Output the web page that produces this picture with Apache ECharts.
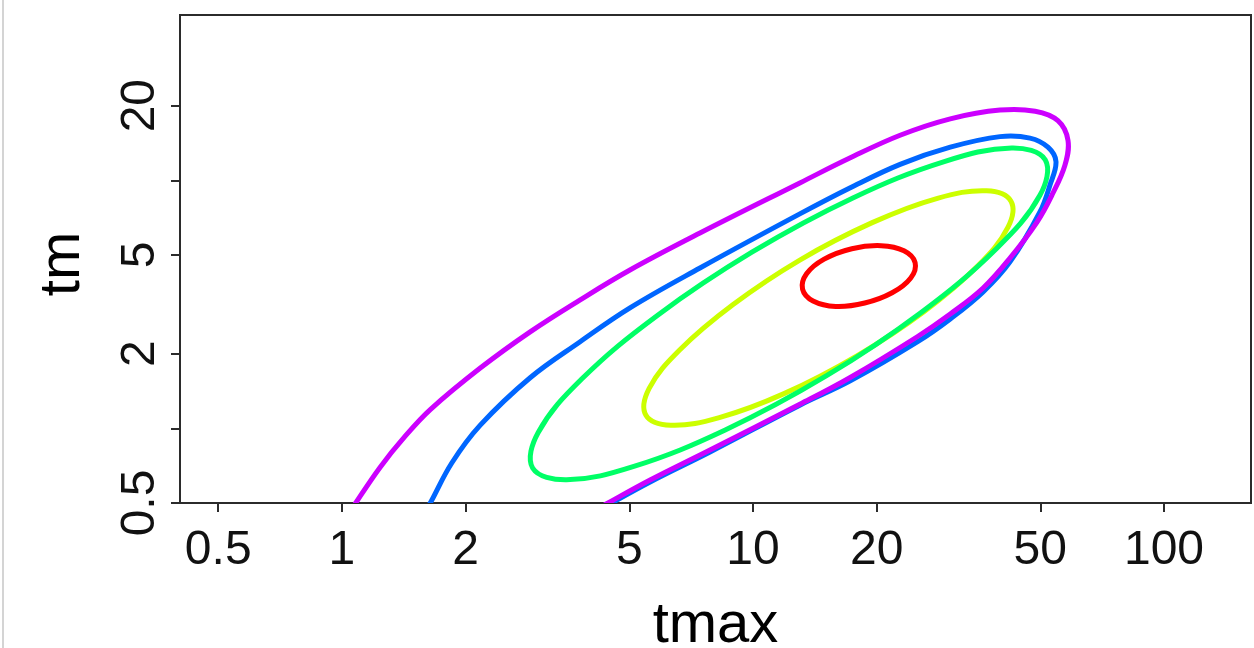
<!DOCTYPE html>
<html><head><meta charset="utf-8">
<script src="https://cdn.jsdelivr.net/npm/echarts@6/dist/echarts.min.js"></script>
<style>html,body{margin:0;padding:0;background:#fff}#c{width:1254px;height:648px}</style>
</head><body><div id="c"></div>
<script>
// Axis ticks
const xTicks = [0.5, 1, 2, 5, 10, 20, 50, 100];
const yTicks = [0.5, 1, 2, 5, 10, 20];
const yLabels = [0.5, 2, 5, 20];

// Contour traces (tmax, tm)
const redTmax = [17.4, 14.9, 13.5, 13.2, 14.0, 15.9, 18.7, 21.8, 24.2, 24.8, 23.3, 20.5];
const redTm   = [5.30, 4.81, 4.20, 3.64, 3.26, 3.10, 3.20, 3.52, 4.04, 4.66, 5.20, 5.45];

const yellowTmax = [13.0, 8.93, 6.63, 5.59, 5.49, 6.31, 8.28, 11.9, 17.9, 26.1, 35.2, 41.7, 42.4, 37.0, 28.1, 19.5];
const yellowTm   = [4.77, 3.15, 2.07, 1.45, 1.13, 1.03, 1.105, 1.38, 1.96, 2.96, 4.51, 6.46, 8.26, 9.08, 8.46, 6.75];

const greenTmax = [9.94, 5.83, 3.83, 3.00, 2.91, 3.52, 5.13, 8.56, 15.1, 25.7, 39.1, 49.9, 51.4, 42.6, 29.2, 17.5];
const greenTm   = [5.13, 2.84, 1.58, 0.960, 0.692, 0.620, 0.702, 0.985, 1.63, 2.94, 5.30, 8.70, 12.1, 13.5, 11.9, 8.49];

const blueTmax = [1.48, 1.64, 1.85, 2.17, 2.87, 3.79, 5.02, 7.43, 13.0, 17.2, 22.8, 30.2, 39.9, 47.2, 52.2, 54.6, 52.8, 49.9, 42.2, 36.3, 30.2, 25.1, 17.2, 13.0, 7.86, 5.62, 4.44, 3.90];
const blueTm   = [0.371, 0.500, 0.725, 1.03, 1.60, 2.23, 3.06, 4.43, 7.32, 9.31, 11.6, 13.6, 15.0, 14.8, 13.6, 11.9, 9.58, 7.45, 4.69, 3.55, 2.76, 2.23, 1.55, 1.24, 0.803, 0.608, 0.491, 0.435];

const purpleTmax = [0.962, 1.08, 1.24, 1.42, 1.64, 2.17, 2.87, 3.79, 5.02, 7.43, 13.0, 17.2, 22.8, 30.2, 39.9, 48.6, 55.2, 58.4, 57.4, 53.4, 49.1, 42.2, 36.3, 30.2, 25.1, 17.2, 13.0, 7.86, 5.62, 4.44, 3.90];
const purpleTm   = [0.371, 0.500, 0.699, 0.923, 1.19, 1.75, 2.45, 3.29, 4.35, 6.13, 9.76, 12.3, 15.2, 17.7, 19.2, 19.0, 17.4, 14.5, 11.5, 8.73, 6.79, 4.86, 3.68, 2.89, 2.34, 1.60, 1.25, 0.818, 0.619, 0.500, 0.443];

const colors = ['#FF0000', '#CCFF00', '#00FF66', '#0066FF', '#CC00FF'];

const FONT = '"Liberation Sans", Arial, Helvetica, sans-serif';
const fmt = v => String(+(+v).toPrecision(3));

function contour(name, xs, ys, closed, color) {
  const data = xs.map((x, i) => [x, ys[i]]);
  return {
    name, type: 'custom', coordinateSystem: 'cartesian2d', clip: true, silent: true,
    data,
    renderItem: function (params, api) {
      if (params.dataIndex !== 0) return null;
      const pts = data.map(d => api.coord(d));
      return {
        type: closed ? 'polygon' : 'polyline',
        shape: { points: pts, smooth: 0.38 },
        style: { fill: 'none', stroke: color, lineWidth: 5, lineJoin: 'round' }
      };
    }
  };
}

const chart = echarts.init(document.getElementById('c'), null, { renderer: 'canvas' });
chart.setOption({
  animation: false,
  backgroundColor: '#ffffff',
  grid: { left: 180, right: 3, top: 15, bottom: 145, containLabel: false, outerBoundsMode: 'none',
          show: true, borderColor: '#2b2b2b', borderWidth: 2, backgroundColor: 'transparent' },
  graphic: [{ type: 'line', shape: { x1: 3, y1: 0, x2: 3, y2: 648 }, style: { stroke: '#d4d4d4', lineWidth: 2 }, silent: true }],
  xAxis: {
    type: 'log', logBase: 10, min: 0.4036, max: 162.8,
    name: 'tmax', nameLocation: 'middle', nameGap: 94,
    nameTextStyle: { fontFamily: FONT, fontSize: 58, color: '#000' },
    axisLine: { show: true, lineStyle: { color: '#2b2b2b', width: 2 } },
    axisTick: { show: true, customValues: xTicks, length: 9, lineStyle: { color: '#2b2b2b', width: 2 } },
    axisLabel: { customValues: xTicks, formatter: fmt, margin: 24, fontFamily: FONT, fontSize: 48, color: '#111' },
    splitLine: { show: false }, minorTick: { show: false }
  },
  yAxis: {
    type: 'log', logBase: 10, min: 0.5, max: 46.4,
    name: 'tm', nameLocation: 'middle', nameGap: 88, nameRotate: 90,
    nameTextStyle: { fontFamily: FONT, fontSize: 58, color: '#000', padding: [0, 10, 0, 0] },
    axisLine: { show: true, lineStyle: { color: '#2b2b2b', width: 2 } },
    axisTick: { show: true, customValues: yTicks, length: 9, lineStyle: { color: '#2b2b2b', width: 2 } },
    axisLabel: { customValues: yLabels, formatter: fmt, rotate: 90, margin: 15, fontFamily: FONT, fontSize: 48, color: '#111' },
    splitLine: { show: false }, minorTick: { show: false }
  },
  series: [
    contour('red', redTmax, redTm, true, colors[0]),
    contour('yellow', yellowTmax, yellowTm, true, colors[1]),
    contour('green', greenTmax, greenTm, true, colors[2]),
    contour('blue', blueTmax, blueTm, false, colors[3]),
    contour('purple', purpleTmax, purpleTm, false, colors[4])
  ]
});
</script></body></html>
